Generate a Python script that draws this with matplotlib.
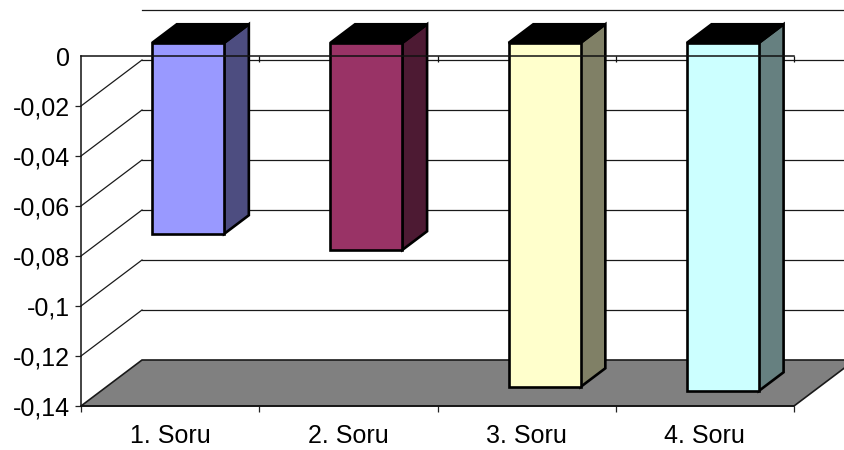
import matplotlib
matplotlib.use("Agg")
import matplotlib.pyplot as plt
from matplotlib.patches import Polygon

categories = ["1. Soru", "2. Soru", "3. Soru", "4. Soru"]
values = [-0.0764, -0.0828, -0.1376, -0.1392]
front_colors = ["#9999FF", "#993366", "#FFFFCC", "#CCFFFF"]
side_colors = ["#4D4D80", "#4D1A33", "#808066", "#668080"]
y_ticks = [0, -0.02, -0.04, -0.06, -0.08, -0.1, -0.12, -0.14]
y_labels = ["0", "-0,02", "-0,04", "-0,06", "-0,08", "-0,1", "-0,12", "-0,14"]

W, H = 844, 450
plt.rcParams["font.family"] = ["Liberation Sans", "DejaVu Sans"]
fig = plt.figure(figsize=(W / 100, H / 100), dpi=100, facecolor="white")
ax = fig.add_axes([81 / W, (H - 406) / H, 713 / W, 350 / H])
ax.set_xlim(0, 4)
ax.set_ylim(-0.14, 0)
ax.patch.set_visible(False)

# depth projection: one full unit of depth, in data units
DX = 61 / (713 / 4)
DY = 0.14 * 46 / 350
D_FRONT, D_BACK = 0.285, 0.69
BAR_W = 0.404


def p(x, v, d=0.0):
    return (x + d * DX, v + d * DY)


# floor
bottom = y_ticks[-1]
ax.add_patch(Polygon([p(0, bottom), p(0, bottom, 1), p(4, bottom, 1), p(4, bottom)],
                     closed=True, facecolor="#808080", edgecolor="#1A1A1A",
                     lw=1.2, clip_on=False, zorder=1))

# back wall gridlines and side wall diagonals
for v in y_ticks[:-1]:
    ax.plot(*zip(p(0, v, 1), p(4, v, 1)), color="#1A1A1A", lw=0.9, clip_on=False, zorder=0.5)
    if v != 0:
        ax.plot(*zip(p(0, v, 0), p(0, v, 1)), color="#1A1A1A", lw=0.9, clip_on=False, zorder=0.5)

# bars
for i, (val, fc, sc) in enumerate(zip(values, front_colors, side_colors)):
    x0 = i + 0.5 - BAR_W / 2 + (18 / 61 - D_FRONT) * DX
    x1 = x0 + BAR_W
    kw = dict(closed=True, edgecolor="black", lw=1.9, clip_on=False, zorder=3, joinstyle="miter")
    ax.add_patch(Polygon([p(x1, 0, D_FRONT), p(x1, 0, D_BACK), p(x1, val, D_BACK), p(x1, val, D_FRONT)],
                         facecolor=sc, **kw))
    ax.add_patch(Polygon([p(x0, 0, D_FRONT), p(x0, 0, D_BACK), p(x1, 0, D_BACK), p(x1, 0, D_FRONT)],
                         facecolor="black", **kw))
    ax.add_patch(Polygon([p(x0, 0, D_FRONT), p(x1, 0, D_FRONT), p(x1, val, D_FRONT), p(x0, val, D_FRONT)],
                         facecolor=fc, **kw))

# axes
ax.spines["right"].set_visible(False)
for s in ["left", "bottom", "top"]:
    ax.spines[s].set_linewidth(1.1)
    ax.spines[s].set_color("#111111")
    ax.spines[s].set_zorder(5)

ax.set_yticks(y_ticks)
ax.set_yticklabels(y_labels, fontsize=18, color="black")
ax.tick_params(axis="y", length=4.3, width=0.9, pad=3.6, color="#222222")
ax.yaxis.get_major_ticks()[0].tick1line.set_visible(False)

ax.set_xticks(range(5))
ax.set_xticklabels([])
ax.tick_params(axis="x", which="major", length=4.3, width=0.9, color="#222222")
ax.set_xticks([i + 0.5 for i in range(4)], minor=True)
ax.set_xticklabels(categories, minor=True, fontsize=18, color="black")
ax.tick_params(axis="x", which="minor", length=0, pad=13)

# tick marks hanging from the zero axis, in front of the bars
ax.vlines(range(1, 5), -0.14 * 6 / 350, 0, color="#111111", lw=0.9, clip_on=False, zorder=5)

fig.savefig("out.png", dpi=100, facecolor="white")
